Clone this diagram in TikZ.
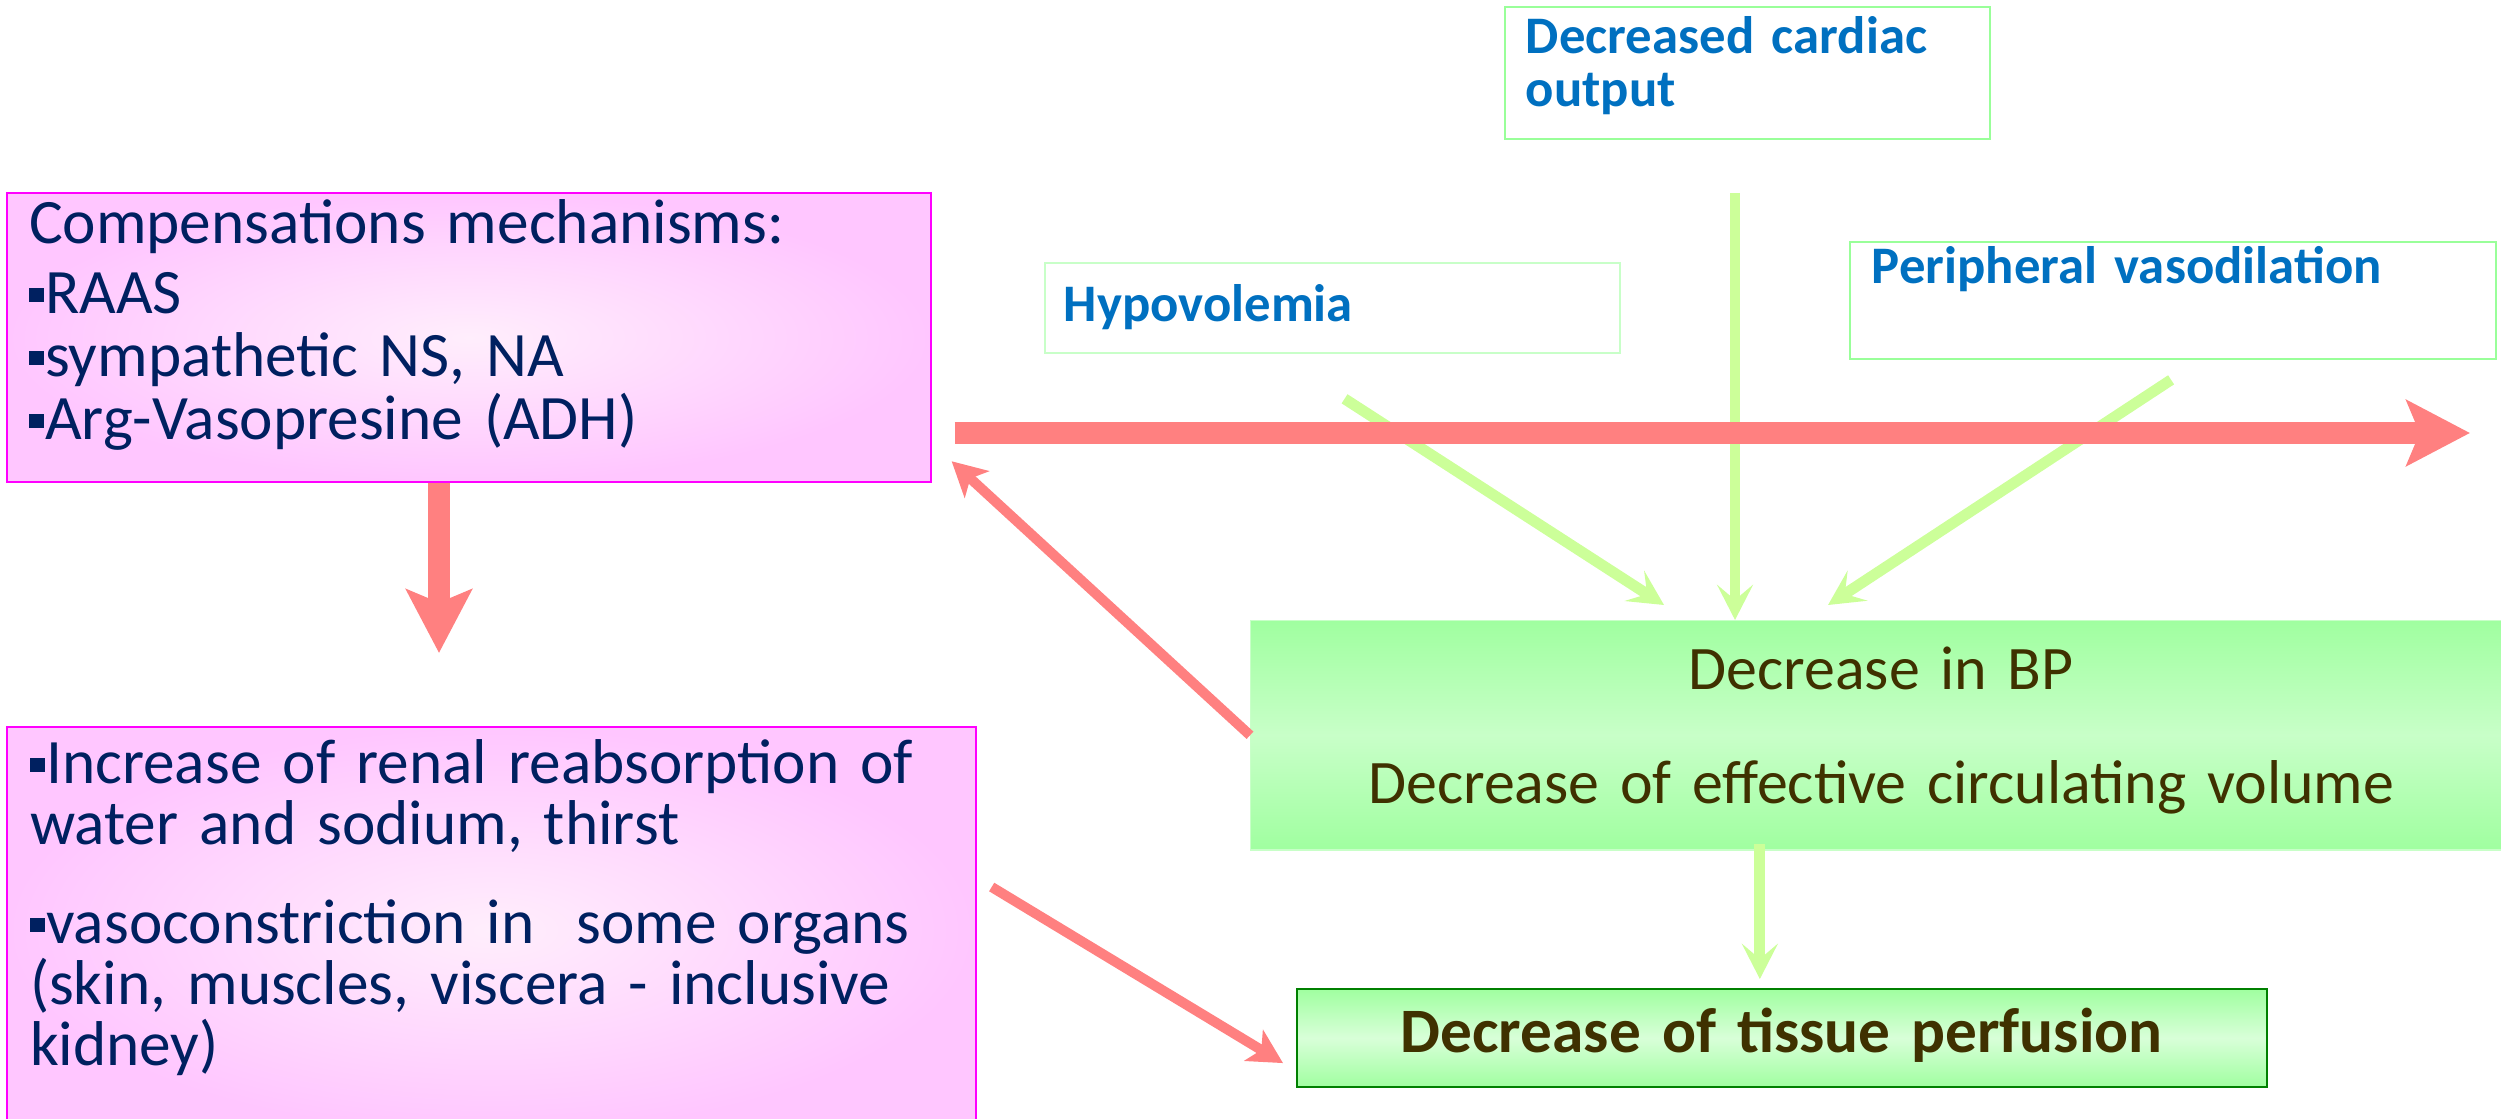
\documentclass[tikz,border=0pt]{standalone}
\usepackage{fontspec}
\setmainfont{Carlito}
\usepackage{xcolor}
\usepackage{tikz}
\usetikzlibrary{arrows.meta, positioning, calc}
\definecolor{navy}{RGB}{0, 32, 96}
\definecolor{bptext}{RGB}{63, 49, 0}
\definecolor{causeblue}{RGB}{0, 112, 192}
\definecolor{pinkedge}{RGB}{255, 198, 255}
\definecolor{pinkcore}{RGB}{255, 238, 252}
\definecolor{magentaline}{RGB}{255, 0, 255}
\definecolor{bpgreen}{RGB}{160, 255, 160}
\definecolor{bplight}{RGB}{200, 255, 200}
\definecolor{redflow}{RGB}{255, 128, 128}
\definecolor{greenflow}{RGB}{204, 255, 153}
\definecolor{framegreen}{RGB}{153, 255, 153}
\definecolor{darkframe}{RGB}{0, 128, 0}
\newcommand{\sqbul}{\rule[3.2pt]{4.3pt}{3.9pt}\hspace{0.3pt}}
\tikzstyle{mechbox} = [rectangle, anchor=north west, draw=magentaline, line width=0.6pt, inner color=pinkcore, outer color=pinkedge, text=navy, align=left, inner ysep=0pt, font=\fontsize{18pt}{0.63cm}\selectfont]
\tikzstyle{causebox} = [rectangle, anchor=north west, draw=framegreen, line width=0.5pt, text=causeblue, align=left, inner ysep=0pt, font=\bfseries\fontsize{15pt}{0.53cm}\selectfont]
\tikzstyle{effectbox} = [rectangle, anchor=north west, top color=bpgreen, bottom color=bpgreen, middle color=bplight, text=bptext, align=center, inner sep=0pt, font=\fontsize{17.6pt}{0.61cm}\selectfont]
\tikzstyle{bigarrow} = [line width=6pt, draw=redflow, -{Stealth[length=18pt, width=18.5pt, inset=3.7pt]}]
\tikzstyle{redarrow} = [line width=2.85pt, draw=redflow, -{Stealth[length=9.7pt, width=10.2pt, inset=2.5pt]}]
\tikzstyle{greenarrow} = [line width=3.1pt, draw=greenflow, -{Stealth[length=10pt, width=10.2pt, inset=4.3pt]}]

\begin{document}
\begin{tikzpicture}[x=0.01cm, y=-0.01cm]
    \useasboundingbox (0,0) rectangle (2501,1119);
    \clip (0,0) rectangle (2501,1119);

    % Compensation mechanisms
    \node[mechbox, inner xsep=0.22cm, text width=8.79cm, text height=0.5cm, text depth=2.39cm] (comp) at (6,192) {Compensations mechanisms:\\[0.07cm]\sqbul RAAS\\ \sqbul sympathetic NS, NA\\ \sqbul Arg-Vasopresine (ADH)};
    \node[mechbox, inner xsep=0.23cm, text width=9.22cm, text height=0.56cm, text depth=3.5cm, font=\fontsize{18pt}{0.61cm}\selectfont] (incr) at (6,726) {\sqbul Increase of renal reabsorption of\\ water and sodium, thirst\\[0.38cm]\sqbul vasoconstriction in~ some organs\\ (skin, muscles, viscera - inclusive\\ kidney)};

    % Causes
    \node[causebox, inner xsep=0.21cm, text width=4.43cm, text height=0.47cm, text depth=0.85cm] (cardiac) at (1504,6) {Decreased cardiac\\ output};
    \node[causebox, draw=bplight, inner xsep=0.19cm, text width=5.37cm, text height=0.59cm, text depth=0.31cm] (hypo) at (1044,262) {Hypovolemia};
    \node[causebox, inner xsep=0.22cm, text width=6.02cm, text height=0.42cm, text depth=0.75cm] (periph) at (1849,241) {Peripheral vasodilation};

    % Effects
    \node[effectbox, draw=bplight, text width=12.6cm, text height=0.69cm, text depth=1.6cm] (bp) at (1250,620) {Decrease in BP\\[0.53cm] Decrease of effective circulating volume};
    \node[effectbox, draw=darkframe, line width=0.6pt, middle color=bplight!70!white, text width=9.69cm, text height=0.63cm, text depth=0.35cm, font=\bfseries\fontsize{18pt}{0.61cm}\selectfont] (tissue) at (1296,988) {Decrease of tissue perfusion};

    % Green arrows
    \coordinate (cardtail) at (1735,193);
    \draw[greenarrow] (cardtail) -- (cardtail |- bp.north);
    \draw[greenarrow] ($(hypo.south)+(12,45)$) -- ($(bp.north west)+(414,-15)$);
    \draw[greenarrow] ($(periph.south)+(-2,20)$) -- ($(bp.north west)+(578,-15)$);
    \coordinate (perfin) at ($(tissue.north)+(-22,-9)$);
    \draw[greenarrow] ($(bp.south -| perfin)+(0,-7)$) -- (perfin);

    % Red arrows
    \coordinate (bigtip) at (2470,433);
    \draw[bigarrow, shorten <=0.23cm] (comp.east |- bigtip) -- (bigtip);
    \coordinate (downtip) at (439,653);
    \draw[bigarrow] (comp.south -| downtip) -- (downtip);
    \draw[redarrow] (bp.west) -- ($(comp.south east)+(20,-22)$);
    \draw[redarrow] ($(incr.north east)+(15,161)$) -- ($(tissue.west)+(-13,25)$);
\end{tikzpicture}
\end{document}
